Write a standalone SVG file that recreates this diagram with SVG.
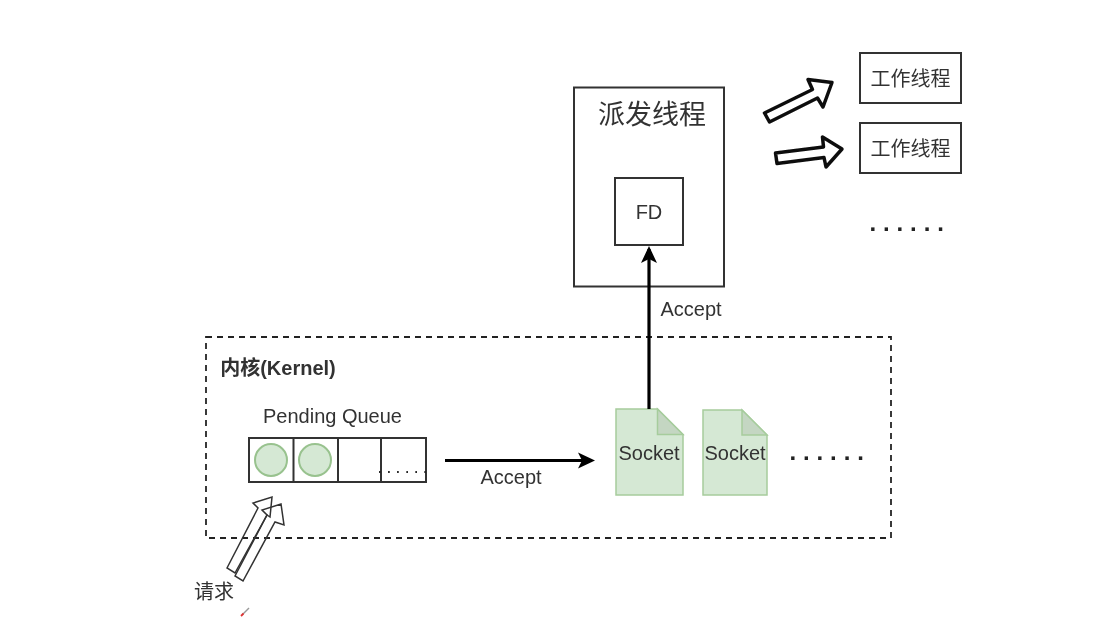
<svg xmlns="http://www.w3.org/2000/svg" width="1099" height="621" viewBox="0 0 1099 621">
<style>
text{font-family:"Liberation Sans","Noto Sans CJK SC",sans-serif;fill:#333;font-size:20px;text-anchor:middle}
.box{fill:#fff;stroke:#333;stroke-width:2}
.doc{fill:#d5e8d4;stroke:#a6cc9c;stroke-width:1.5}
.fold{fill:#c4d6c2;stroke:#a6cc9c;stroke-width:1.5}
.dots{font-weight:bold;font-size:24px;letter-spacing:6.9px;text-anchor:start;fill:#222}
.hollow{fill:#fff;stroke:#111;stroke-width:3.5;stroke-linejoin:round}
.thin{fill:none;stroke:#333;stroke-width:1.5}
.conn{fill:none;stroke:#000;stroke-width:3.2}
.item{fill:#d5e8d4;stroke:#98c28e;stroke-width:2}
</style>
<defs>
<marker id="head" markerUnits="userSpaceOnUse" markerWidth="18" markerHeight="18" refX="14" refY="9" orient="auto">
<path d="M0 1L17 9L0 17L4 9Z" fill="#000"/>
</marker>
<filter id="soft" filterUnits="userSpaceOnUse" x="0" y="0" width="1099" height="621"><feGaussianBlur stdDeviation="0.45"/></filter>
</defs>
<rect width="1099" height="621" fill="#fff"/>
<g filter="url(#soft)">
<g id="kernel">
<rect x="206" y="337" width="685" height="201" fill="none" stroke="#222" stroke-width="1.8" stroke-dasharray="6 5"/>
<text x="278" y="375" style="font-weight:bold">内核(Kernel)</text>
</g>
<g id="dispatcher">
<rect class="box" x="574" y="87.5" width="150" height="199"/>
<text x="652" y="124" style="font-size:27px">派发线程</text>
</g>
<g id="fd">
<rect class="box" x="615" y="178" width="68" height="67"/>
<text x="649" y="219">FD</text>
</g>
<g id="worker1">
<rect class="box" x="860" y="53" width="101" height="50"/>
<text x="910.500" y="86">工作线程</text>
</g>
<g id="worker2">
<rect class="box" x="860" y="123" width="101" height="50"/>
<text x="910.500" y="156">工作线程</text>
</g>
<g id="worker-more"><text class="dots" x="869.400" y="230.500">......</text></g>
<g id="pending-queue">
<text x="332.500" y="423">Pending Queue</text>
<rect class="box" x="249" y="438" width="177" height="44"/>
<path d="M293.500 438V482M338 438V482M381 438V482" fill="none" stroke="#333" stroke-width="2"/>
<circle class="item" cx="271" cy="460" r="16"/>
<circle class="item" cx="315" cy="460" r="16"/>
<text x="378.300" y="473" style="font-size:12px;letter-spacing:5.7px;text-anchor:start;font-weight:bold;fill:#222">......</text>
</g>
<g id="socket1">
<path class="doc" d="M616 409H657.500L683 434.500V495H616Z"/>
<path class="fold" d="M657.500 409V434.500H683Z"/>
<text x="649" y="460">Socket</text>
</g>
<g id="socket2">
<path class="doc" d="M703 410H742L767 435V495H703Z"/>
<path class="fold" d="M742 410V435H767Z"/>
<text x="735" y="460">Socket</text>
</g>
<g id="socket-more"><text class="dots" x="789.400" y="460">......</text></g>
<g id="connectors">
<path class="conn" d="M445 460.500H592" marker-end="url(#head)"/>
<path class="conn" d="M649 409V249" marker-end="url(#head)"/>
<path class="hollow" d="M764.500 113L769.500 122L817.500 98L823 107L832 82.500L808 79.500L812.500 89.500Z"/>
<path class="hollow" d="M775.500 153L777 163.500L824 157.500L826 167L842 149L822.500 137L823.500 147Z"/>
<path class="thin" d="M227 568L258 508L253 503L272 497L270 517L267 515L235 573Z"/>
<path class="thin" d="M235 576L267 515L262 510L281 504L284 525L275 522L243 581Z"/>
</g>
<text x="691" y="316">Accept</text>
<text x="511" y="484">Accept</text>
<text x="214" y="599">请求</text>
<g id="pointer">
<path d="M249 608L243 614" stroke="#999" stroke-width="1.500" fill="none"/>
<path d="M243.500 613.500L241 616" stroke="#d33" stroke-width="1.800" fill="none"/>
</g>
</g>
</svg>
